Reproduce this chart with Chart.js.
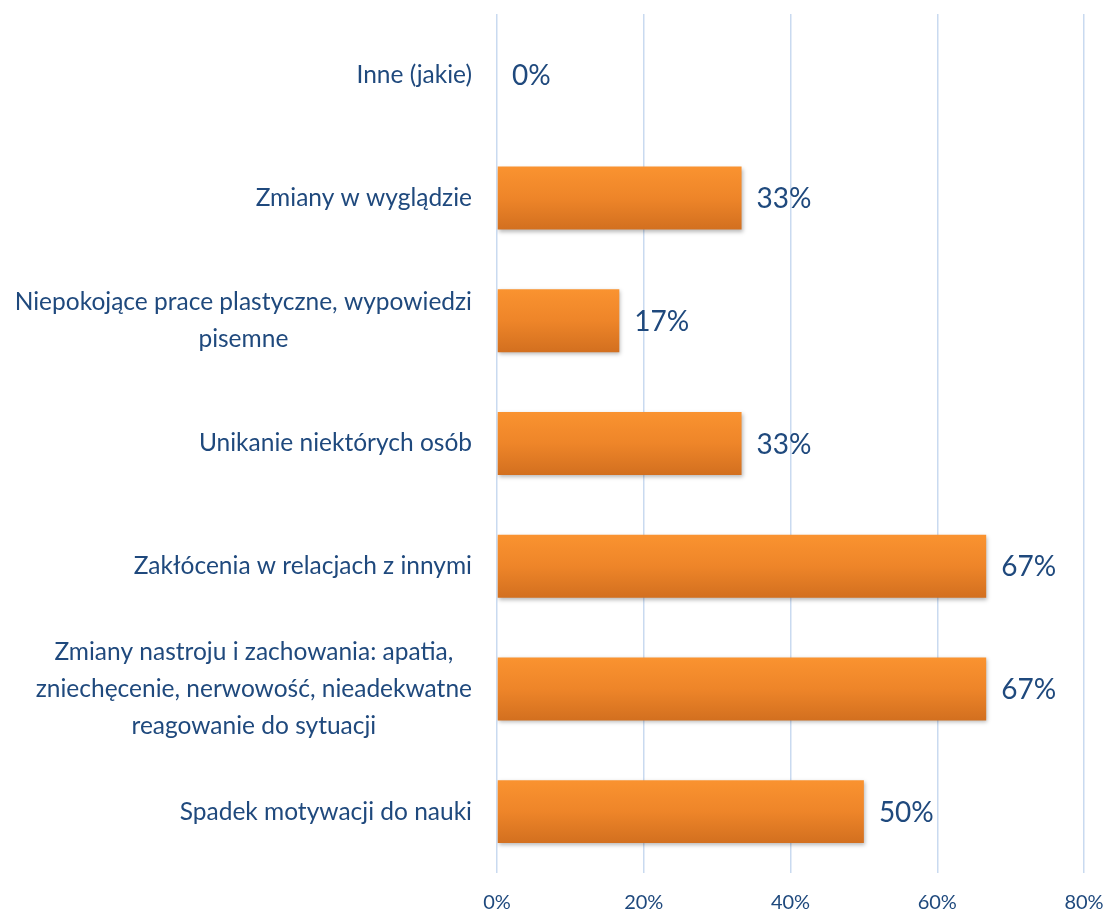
<!DOCTYPE html>
<html>
<head>
<meta charset="utf-8">
<script src="https://cdn.jsdelivr.net/npm/chart.js@4.4.1/dist/chart.umd.min.js"></script>
<style>
  html, body { margin: 0; padding: 0; background: #fff; }
  #wrap { width: 1109px; height: 916px; }
</style>
</head>
<body>
<div id="wrap"><canvas id="chart" width="1109" height="916"></canvas></div>
<script>
// labels and values
const categories = [
  ["Inne (jakie)"],
  ["Zmiany w wyglądzie"],
  ["Niepokojące prace plastyczne, wypowiedzi", "pisemne"],
  ["Unikanie niektórych osób"],
  ["Zakłócenia w relacjach z innymi"],
  ["Zmiany nastroju i zachowania: apatia,", "zniechęcenie, nerwowość, nieadekwatne", "reagowanie do sytuacji"],
  ["Spadek motywacji do nauki"]
];
const values = [0, 33.33, 16.67, 33.33, 66.67, 66.67, 50];
const valueLabels = ["0%", "33%", "17%", "33%", "67%", "67%", "50%"];
const xTicks = [0, 20, 40, 60, 80];

const FONT = "Lato";
const TEXT = "#1F497D";

// bars: vertical orange gradient per bar
function barFill(ctx){
  const chart = ctx.chart;
  const y = chart.scales.y;
  if(!chart.chartArea || !y) return "#f08a2c";
  const cy = y.getPixelForValue(ctx.dataIndex);
  const g = chart.ctx.createLinearGradient(0, cy - 32, 0, cy + 32);
  g.addColorStop(0, "#fa9330");
  g.addColorStop(0.5, "#ee8529");
  g.addColorStop(1, "#d26f1f");
  return g;
}

const barShadow = {
  id: "barShadow",
  beforeDatasetsDraw(chart){
    const c = chart.ctx;
    c.save();
    c.shadowColor = "rgba(0,0,0,0.28)";
    c.shadowBlur = 4;
    c.shadowOffsetX = 1;
    c.shadowOffsetY = 2;
  },
  afterDatasetsDraw(chart){
    chart.ctx.restore();
  }
};

const valueText = {
  id: "valueText",
  afterDatasetsDraw(chart){
    const c = chart.ctx;
    const meta = chart.getDatasetMeta(0);
    c.save();
    c.font = `28px ${FONT}`;
    c.fillStyle = TEXT;
    c.textAlign = "left";
    c.textBaseline = "middle";
    meta.data.forEach((bar, i) => {
      c.fillText(valueLabels[i], bar.x + 15, bar.y + 1);
    });
    c.restore();
  }
};

// category labels: block right aligned at the axis, lines centred in the block
const catText = {
  id: "catText",
  afterDraw(chart){
    const c = chart.ctx;
    const y = chart.scales.y;
    const right = chart.chartArea.left - 25;
    const lh = 37;
    c.save();
    c.font = `24.5px ${FONT}`;
    c.fillStyle = TEXT;
    c.textBaseline = "middle";
    c.textAlign = "center";
    categories.forEach((lines, i) => {
      const w = Math.max(...lines.map(l => c.measureText(l).width));
      const cx = right - w / 2;
      const cy = y.getPixelForValue(i);
      const top = cy - (lines.length - 1) * lh / 2;
      lines.forEach((l, k) => c.fillText(l, cx, top + k * lh));
    });
    c.restore();
  }
};

new Chart(document.getElementById("chart"), {
  type: "bar",
  data: {
    labels: categories.map(l => l.join(" ")),
    datasets: [{
      data: values,
      backgroundColor: barFill,
      borderWidth: 0,
      categoryPercentage: 1,
      barPercentage: 0.513
    }]
  },
  options: {
    indexAxis: "y",
    responsive: false,
    animation: false,
    layout: { padding: { top: 14, right: 25, left: 0, bottom: 0 } },
    plugins: { legend: { display: false }, tooltip: { enabled: false } },
    scales: {
      x: {
        min: 0, max: 80,
        afterBuildTicks: s => { s.ticks = xTicks.map(v => ({ value: v })); },
        afterFit: s => { s.height = 43; s.paddingLeft = 0; s.paddingRight = 0; },
        grid: { color: "#c9daf0", lineWidth: 1.5, drawTicks: false },
        border: { display: false },
        ticks: {
          padding: 18,
          color: TEXT,
          font: { family: FONT, size: 20 },
          callback: v => v + "%"
        }
      },
      y: {
        afterFit: s => { s.width = 497; },
        grid: { display: false },
        border: { display: false },
        ticks: { color: "rgba(0,0,0,0)", font: { size: 1 } }
      }
    }
  },
  plugins: [barShadow, valueText, catText]
});
</script>
</body>
</html>
